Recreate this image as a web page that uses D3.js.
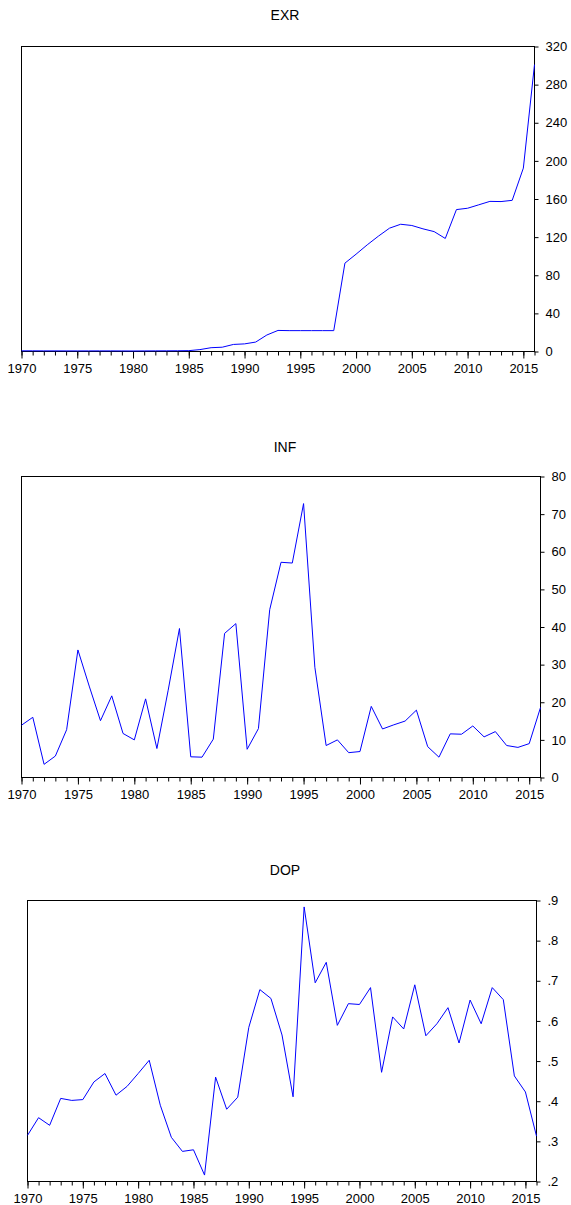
<!DOCTYPE html>
<html>
<head>
<meta charset="utf-8">
<script src="https://cdn.jsdelivr.net/npm/d3@7"></script>
<style>
  body { margin: 0; background: #fff; }
  svg { display: block; }
  text { font-family: "Liberation Sans", Arial, sans-serif; fill: #000; }
</style>
</head>
<body>
<svg id="chart" width="571" height="1205"></svg>
<script>
// annual series, 1970-2016
const years = [1970, 1971, 1972, 1973, 1974, 1975, 1976, 1977, 1978, 1979,
               1980, 1981, 1982, 1983, 1984, 1985, 1986, 1987, 1988, 1989,
               1990, 1991, 1992, 1993, 1994, 1995, 1996, 1997, 1998, 1999,
               2000, 2001, 2002, 2003, 2004, 2005, 2006, 2007, 2008, 2009,
               2010, 2011, 2012, 2013, 2014, 2015, 2016];

const exr = [0.71, 0.71, 0.66, 0.66, 0.63, 0.62, 0.63, 0.65, 0.64, 0.60,
             0.55, 0.62, 0.67, 0.72, 0.77, 0.89, 2.0, 4.0, 4.5, 7.4,
             8.0, 9.9, 17.3, 22.1, 21.9, 21.9, 21.9, 21.9, 21.9, 92.7,
             102.1, 111.9, 121.0, 129.4, 133.5, 132.2, 128.7, 125.8, 118.6, 148.9,
             150.3, 153.9, 157.5, 157.3, 158.6, 192.4, 301.0];

const inf = [13.9, 16.0, 3.5, 5.7, 12.7, 33.9, 24.3, 15.1, 21.7, 11.7,
             10.0, 20.9, 7.7, 23.2, 39.6, 5.5, 5.4, 10.2, 38.3, 40.9,
             7.5, 13.0, 44.6, 57.2, 57.0, 72.8, 29.3, 8.5, 10.0, 6.6,
             6.9, 18.9, 12.9, 14.0, 15.0, 17.9, 8.2, 5.4, 11.6, 11.5,
             13.7, 10.8, 12.2, 8.5, 8.0, 9.0, 18.6];

const dop = [0.315, 0.359, 0.340, 0.407, 0.402, 0.404, 0.448, 0.469, 0.415, 0.437,
             0.469, 0.502, 0.390, 0.310, 0.275, 0.279, 0.216, 0.460, 0.380, 0.410,
             0.584, 0.678, 0.656, 0.565, 0.411, 0.884, 0.695, 0.746, 0.589, 0.643,
             0.641, 0.683, 0.472, 0.610, 0.580, 0.690, 0.563, 0.593, 0.633, 0.545,
             0.652, 0.593, 0.683, 0.653, 0.463, 0.423, 0.313];

const yearTicks = [1970, 1975, 1980, 1985, 1990, 1995, 2000, 2005, 2010, 2015];
const exrTicks = [0, 40, 80, 120, 160, 200, 240, 280, 320];
const infTicks = [0, 10, 20, 30, 40, 50, 60, 70, 80];
const dopTicks = [0.2, 0.3, 0.4, 0.5, 0.6, 0.7, 0.8, 0.9];

const svg = d3.select('#chart');

function panel(opts){
    let x = d3.scaleLinear().domain([1970, 2016]).range([opts.left, opts.right]);
    let y = d3.scaleLinear().domain(opts.domain).range([opts.bottom, opts.top]);
    let g = svg.append('g');

    g.append('text')
        .attr('x', 285)
        .attr('y', opts.titleY)
        .attr('text-anchor', 'middle')
        .style('font-size', '14px')
        .text(opts.title);

    // minor year ticks
    g.append('g')
        .attr('transform', `translate(0,${opts.bottom})`)
        .call(d3.axisBottom(x).tickValues(years).tickSize(4).tickFormat(''))
        .call(a => a.select('.domain').remove());

    // labelled ticks every 5 years
    g.append('g')
        .attr('transform', `translate(0,${opts.bottom})`)
        .call(d3.axisBottom(x).tickValues(yearTicks).tickSize(7).tickPadding(5).tickFormat(d3.format('d')))
        .call(a => a.select('.domain').remove())
        .call(a => a.selectAll('text').style('font-size', '13px').attr('font-family', null));

    g.append('g')
        .attr('transform', `translate(${opts.right},0)`)
        .call(d3.axisRight(y).tickValues(opts.ticks).tickSize(4).tickPadding(7).tickFormat(opts.format))
        .call(a => a.select('.domain').remove())
        .call(a => a.selectAll('text').style('font-size', '13px').attr('font-family', null));

    g.append('rect')
        .attr('x', opts.left)
        .attr('y', opts.top)
        .attr('width', opts.right - opts.left)
        .attr('height', opts.bottom - opts.top)
        .attr('fill', 'none')
        .attr('stroke', '#000')
        .attr('stroke-width', 1);

    g.append('path')
        .datum(opts.values)
        .attr('fill', 'none')
        .attr('stroke', '#0000ff')
        .attr('stroke-width', 1)
        .attr('d', d3.line().x((d, i) => x(years[i])).y(d => y(d)));
}

panel({title: 'EXR', titleY: 20, values: exr, domain: [0, 320], ticks: exrTicks,
       format: d3.format('d'), left: 21.5, right: 534.5, top: 46.5, bottom: 351.5});

panel({title: 'INF', titleY: 452, values: inf, domain: [0, 80], ticks: infTicks,
       format: d3.format('d'), left: 21.5, right: 540.5, top: 476.5, bottom: 777.5});

panel({title: 'DOP', titleY: 875, values: dop, domain: [0.2, 0.9], ticks: dopTicks,
       format: d => d3.format('.1f')(d).replace(/^0/, ''), left: 27.5, right: 536.5, top: 900.5, bottom: 1181.5});
</script>
</body>
</html>
